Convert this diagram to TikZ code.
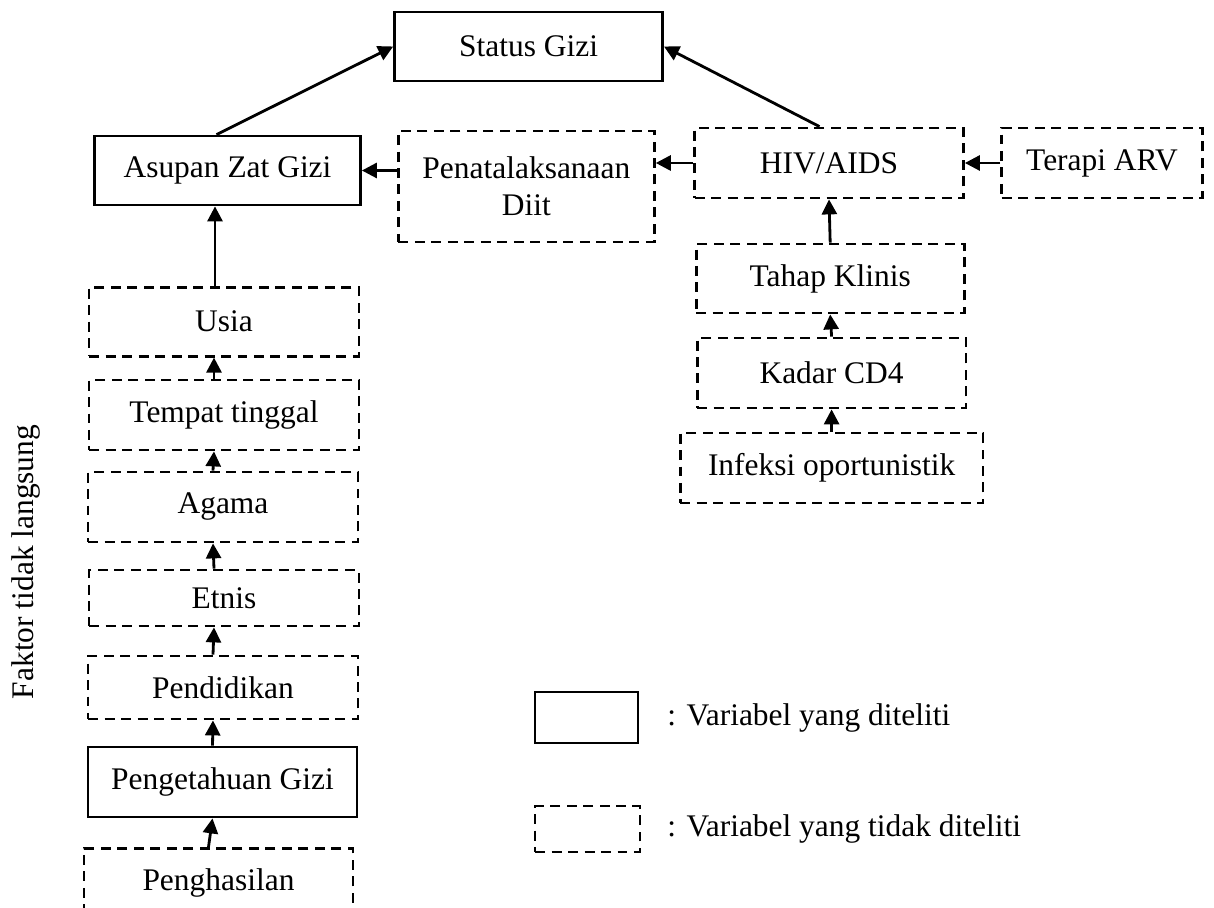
\documentclass[tikz,border=0pt]{standalone}
\usepackage{fontspec}
\setmainfont{Liberation Serif}
\usetikzlibrary{arrows.meta}

\begin{document}
\begin{tikzpicture}[x=0.02cm,y=-0.02cm,
            font=\fontsize{17.9}{21}\selectfont,
            box/.style={draw,line width=1.6pt,inner sep=0pt,align=center},
            dbox/.style={box,dash pattern=on 0.2cm off 0.13cm},
            arr/.style={line width=1.6pt,-{Triangle[length=0.3cm,width=0.3cm]}}]
            \clip (0,0) rectangle (1214,908);

            % top
            \node[box,minimum width=5.36cm,minimum height=1.38cm] (status) at (528.6,46.5) {Status Gizi};
            \node[box,minimum width=5.32cm,minimum height=1.38cm] (asupan) at (227.5,170.5) {Asupan Zat Gizi};
            \node[dbox,minimum width=5.12cm,minimum height=2.22cm] (penata) at (526.4,186.5) {Penatalaksanaan\\Diit};
            \node[dbox,minimum width=5.38cm,minimum height=1.4cm] (hiv) at (829,163) {HIV/AIDS};
            \node[dbox,minimum width=4.02cm,minimum height=1.4cm] (terapi) at (1102,163) {Terapi ARV};

            % right column
            \node[dbox,minimum width=5.36cm,minimum height=1.38cm] (tahap) at (830.2,278.5) {Tahap Klinis};
            \node[dbox,minimum width=5.38cm,minimum height=1.4cm] (kadar) at (831.6,373) {Kadar CD4};
            \node[dbox,minimum width=6.06cm,minimum height=1.4cm] (infeksi) at (831.6,468) {Infeksi oportunistik};

            % left column
            \node[dbox,minimum width=5.4cm,minimum height=1.38cm] (usia) at (224,321.7) {Usia};
            \node[dbox,minimum width=5.4cm,minimum height=1.4cm] (tempat) at (224,415) {Tempat tinggal};
            \node[dbox,minimum width=5.4cm,minimum height=1.4cm] (agama) at (223,507) {Agama};
            \node[dbox,minimum width=5.4cm,minimum height=1.12cm] (etnis) at (224,598) {Etnis};
            \node[dbox,minimum width=5.4cm,minimum height=1.26cm] (pendidikan) at (223,687.5) {Pendidikan};
            \node[box,minimum width=5.38cm,minimum height=1.4cm] (pengetahuan) at (222.5,782) {Pengetahuan Gizi};
            \node[dbox,minimum width=5.38cm,anchor=north,text height=0.4cm,text depth=4cm,inner ysep=0.44cm] (penghasilan) at (218.5,847) {Penghasilan};

            \node[rotate=90] (faktor) at (26,562) {Faktor tidak langsung};

            % legend
            \node[box,minimum width=2.06cm,minimum height=1.02cm] (ket1) at (586.5,717.5) {};
            \node[dbox,minimum width=2.1cm,minimum height=0.92cm] (ket2) at (587.5,829) {};
            \node[anchor=west,inner sep=0pt] (ket1 text) at (667,717.5) {: Variabel yang diteliti};
            \node[anchor=west,inner sep=0pt] (ket2 text) at (667,829) {: Variabel yang tidak diteliti};

            % arrows
            \draw[arr] ([xshift=-0.22cm]asupan.north) -- (status.west);
            \draw[arr] ([xshift=-0.19cm]hiv.north) -- (status.east);
            \draw[arr] (penata.west |- asupan.east) -- (asupan.east);
            \draw[arr] (hiv.west) -- (hiv.west -| penata.east);
            \draw[arr] (terapi.west) -- (hiv.east);
            \draw[arr] (tahap.north) -- (hiv.south);
            \draw[arr] (kadar.north) -- (tahap.south);
            \draw[arr] (infeksi.north) -- (kadar.south);
            \draw[arr] ([xshift=-0.18cm]usia.north) -- ([xshift=-0.18cm]usia.north |- asupan.south);
            \foreach \a/\b in {tempat/usia,agama/tempat,etnis/agama,pendidikan/etnis,pengetahuan/pendidikan,penghasilan/pengetahuan}
                \draw[arr] ([xshift=-0.2cm]\a.north) -- ([xshift=-0.2cm]\b.south);
\end{tikzpicture}
\end{document}
